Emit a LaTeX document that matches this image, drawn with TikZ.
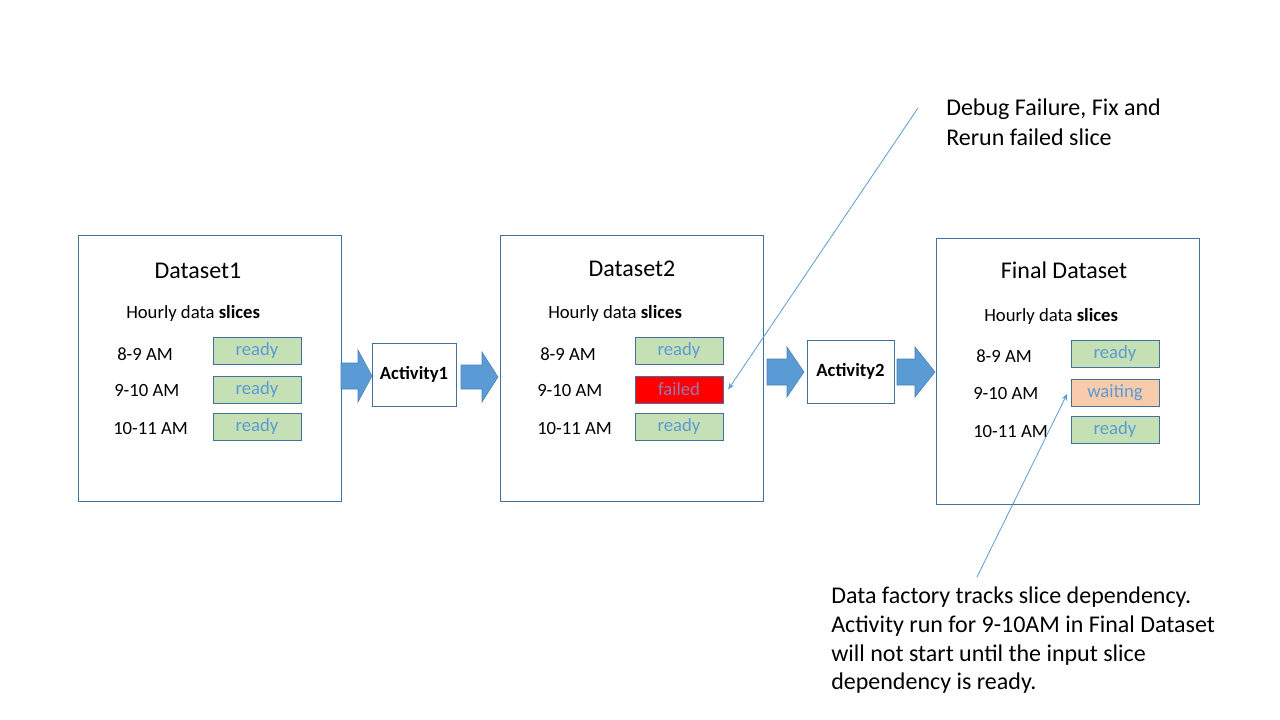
\documentclass[tikz,border=0pt]{standalone}
\usepackage{fontspec}
\setmainfont{Carlito}
\usetikzlibrary{arrows.meta}
\definecolor{boxline}{HTML}{41719C}
\definecolor{arrowblue}{HTML}{5B9BD5}
\definecolor{readyfill}{HTML}{C5E0B4}
\definecolor{waitfill}{HTML}{F8CBAD}
\definecolor{failtext}{RGB}{150,120,180}
\tikzset{
  dsbox/.style={draw=boxline, line width=0.75pt, minimum width=197.25pt, minimum height=198.75pt, inner sep=0pt},
  actbox/.style={draw=boxline, line width=0.75pt, minimum height=47.25pt, inner sep=0pt, font=\fontsize{14}{16}\selectfont\bfseries},
  slicebox/.style={draw=boxline, line width=0.75pt, minimum width=66pt, minimum height=20.25pt, inner sep=0pt, text=arrowblue, font=\fontsize{14}{16}\selectfont},
  ready/.style={slicebox, fill=readyfill},
  failedbox/.style={slicebox, fill=red, text=failtext},
  waitbox/.style={slicebox, fill=waitfill},
  title/.style={font=\fontsize{18}{21}\selectfont, inner sep=0pt},
  sub/.style={font=\fontsize{14}{16}\selectfont, inner sep=0pt, anchor=west},
  lbl/.style={font=\fontsize{14}{16}\selectfont, inner sep=0pt, anchor=west},
  callout/.style={draw=arrowblue, line width=0.6pt, -{Stealth[length=5pt,width=4pt]}},
  note/.style={font=\fontsize{18}{22}\selectfont, align=left, inner sep=0pt, anchor=north west},
  blockarrow/.style={fill=arrowblue, draw=boxline!60!arrowblue, line width=0.4pt}
}
\newcommand{\blockarr}[6]{% x0, xh, x1, yc, shaft half, head half
  \fill[blockarrow] (#1,#4-#5) -- (#2,#4-#5) -- (#2,#4-#6) -- (#3,#4) -- (#2,#4+#6) -- (#2,#4+#5) -- (#1,#4+#5) -- cycle;}
\begin{document}
\begin{tikzpicture}[x=0.75pt,y=-0.75pt]
\useasboundingbox[fill=white] (0,0) rectangle (1280,720);

% Dataset boxes
\node[dsbox] (d1) at (209.5,368.5) {};
\node[dsbox] (d2) at (631.5,368.5) {};
\node[dsbox] (d3) at (1067.5,371.5) {};

% Activity boxes
\node[actbox, minimum width=63pt] (a1) at (414,374.5) {Activity1};
\node[actbox, minimum width=65.25pt] (a2) at (850.5,371.5) {Activity2};

% Titles
\node[title] (t1) at (198,271) {Dataset1};
\node[title] (t2) at (632,269) {Dataset2};
\node[title] (t3) at (1064,270) {Final Dataset};

\node[sub] (h1) at (126,313) {Hourly data \textbf{slices}};
\node[sub] (h2) at (548,313) {Hourly data \textbf{slices}};
\node[sub] (h3) at (984,316) {Hourly data \textbf{slices}};

% Dataset1 slices
\node[lbl] (l11) at (117,354) {8-9 AM};
\node[lbl] (l12) at (114,391) {9-10 AM};
\node[lbl] (l13) at (113,429) {10-11 AM};
\node[ready] (s11) at (257,350.5) {ready};
\node[ready] (s12) at (257,389.5) {ready};
\node[ready] (s13) at (257,426.5) {ready};

% Dataset2 slices
\node[lbl] (l21) at (540,354) {8-9 AM};
\node[lbl] (l22) at (537,391) {9-10 AM};
\node[lbl] (l23) at (537,429) {10-11 AM};
\node[ready] (s21) at (679,350.5) {ready};
\node[failedbox] (s22) at (679,389.5) {failed};
\node[ready] (s23) at (679,426.5) {ready};

% Final slices
\node[lbl] (l31) at (976,356) {8-9 AM};
\node[lbl] (l32) at (973,394) {9-10 AM};
\node[lbl] (l33) at (973,432) {10-11 AM};
\node[ready] (s31) at (1115,353.5) {ready};
\node[waitbox] (s32) at (1115,392.5) {waiting};
\node[ready] (s33) at (1115,429.5) {ready};

% Block arrows
\blockarr{341}{358}{372}{376}{13}{26}
\blockarr{461}{482}{498}{377}{12}{25}
\blockarr{767}{787}{804}{372}{13}{25}
\blockarr{897}{915}{935}{372}{13}{25}

% Notes
\node[note] (n1) at (946,99) {Debug Failure, Fix and\\Rerun failed slice};
\node[note, font=\fontsize{18}{21.4}\selectfont] (n2) at (831,587) {Data factory tracks slice dependency.\\Activity run for 9-10AM in Final Dataset\\will not start until the input slice\\dependency is ready.};

% Callout lines
\coordinate (c1) at (918,108);
\coordinate (c2) at (977,577);
\draw[callout] (c1) -- ([xshift=3.5pt]s22.east);
\draw[callout] (c2) -- ([xshift=-2.5pt,yshift=-1pt]s32.west);
\end{tikzpicture}
\end{document}
